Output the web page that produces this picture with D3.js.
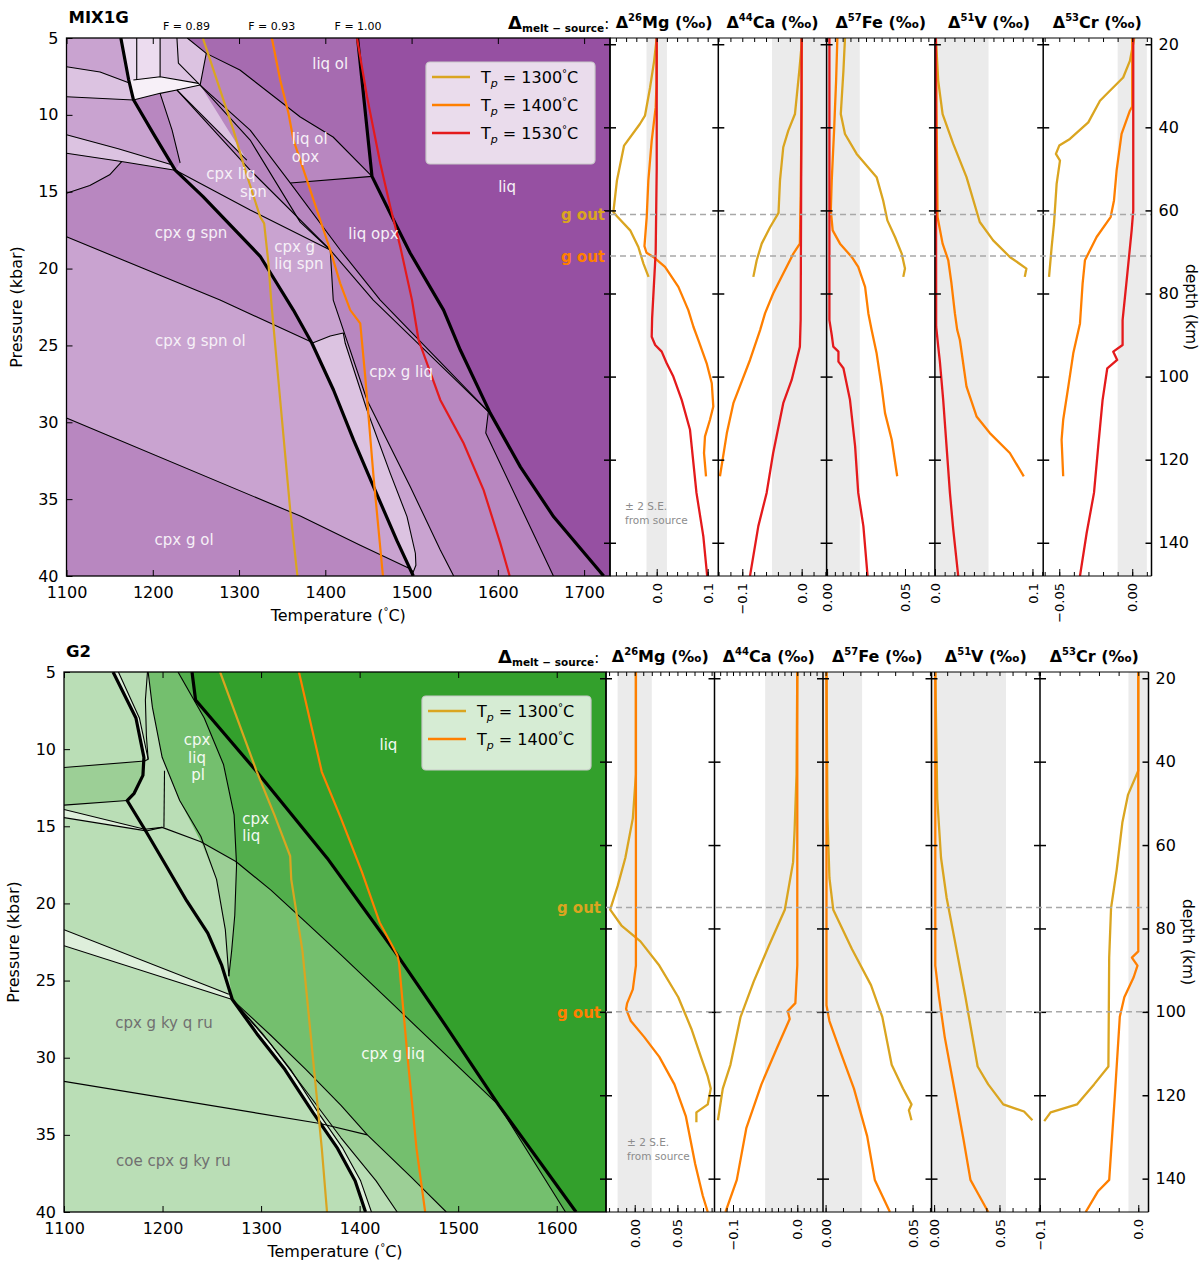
<!DOCTYPE html>
<html lang="en">
<head>
<meta charset="utf-8">
<title>Melt–source isotope fractionation along mantle adiabats</title>
<script src="https://cdn.jsdelivr.net/npm/d3@7/dist/d3.min.js"></script>
<style>
  html, body { margin: 0; padding: 0; background: #fff; }
  svg text { font-family: "DejaVu Sans", sans-serif; }
</style>
</head>
<body>
<svg id="chart" width="1203" height="1261"></svg>
<script>
// ---------------------------------------------------------------
// Shared settings
// ---------------------------------------------------------------
const ELEMENTS = ['Mg', 'Ca', 'Fe', 'V', 'Cr'];
const MASS_NUMBERS = ['26', '44', '57', '51', '53'];
const DEPTH_TICKS = [20, 40, 60, 80, 100, 120, 140];
const P_TICKS = [5, 10, 15, 20, 25, 30, 35, 40];
const KM_PER_KBAR = 3.7;
const SOURCE_2SE = [0.02, 0.05, 0.021, 0.055, 0.01];   // ±2 S.E. of the source composition

// ---------------------------------------------------------------
// MIX1G : phase relations (T °C, P kbar)
// ---------------------------------------------------------------
const mixTLim = [1100, 1730];
const mixTTicks = [1100, 1200, 1300, 1400, 1500, 1600, 1700];
const mixSolidus = [[1163,5],[1172,7.7],[1177.5,9.0],[1201.5,11.3],[1226,13.6],[1258,15.3],[1324.5,19.2],[1363,22.7],[1384.5,24.86],[1409.5,27.9],[1432.7,31.15],[1456,34.2],[1483,37.7],[1502,40]];
const mixLiquidus = [[1437.4,5],[1454.1,14.0],[1479.1,16.84],[1498.5,19.0],[1537.1,22.7],[1556.5,25.3],[1591.3,29.42],[1626.1,32.9],[1664.7,36.15],[1722.7,40]];
const mixAdiabat1300 = [[1258,5],[1274.2,7.73],[1293.5,10.99],[1307.1,13.59],[1324.5,16.63],[1329.1,17.06],[1334.1,19.66],[1337.2,22.05],[1347.7,28.55],[1359.3,35.7],[1367.7,40]];
const mixAdiabat1400 = [[1338,5],[1347.7,7.73],[1357.3,9.9],[1363.1,11.64],[1378.7,14.24],[1394.1,16.84],[1405.7,18.79],[1417.3,20.96],[1428.9,22.7],[1440.5,23.56],[1446.3,27.04],[1455.9,33.54],[1466.8,40]];
const mixAdiabat1530 = [[1436.7,5],[1448.3,8.8],[1463.7,13.15],[1475.3,15.98],[1486.9,18.58],[1500.5,22.05],[1508.1,24.65],[1533.3,28.55],[1560.3,31.37],[1583.5,34.41],[1602.9,37.88],[1613.7,40]];

const mixLiqField = [[1437.4,5],[1454.1,14.0],[1479.1,16.84],[1498.5,19.0],[1537.1,22.7],[1556.5,25.3],[1591.3,29.42],[1626.1,32.9],[1664.7,36.15],[1722.7,40],[1730,40],[1730,5]];
const mixLiqOlField = [[1240,5],[1262,6.0],[1301,7.08],[1371,10.14],[1409,11.44],[1454.1,14.0],[1437.4,5]];
const mixLiqOpxField = [[1359.3,14.43],[1454.1,14.0],[1479.1,16.84],[1498.5,19.0],[1537.1,22.7],[1556.5,25.3],[1591.3,29.42],[1626.1,32.9],[1664.7,36.15],[1722.7,40],[1664.4,40],[1586,30.7],[1589,29.3],[1463.7,22.05],[1417.3,18.79]];
const mixSpnOlField = [[1100,17.93],[1278,22.05],[1384.5,24.8],[1409.5,27.9],[1432.7,31.15],[1456,34.2],[1483,37.7],[1497,39.5],[1440.5,38.0],[1371,36.1],[1100,29.72]];
const mixCpxLiqField = [[1226,13.6],[1258,15.3],[1324.5,19.2],[1363,22.7],[1384.5,24.86],[1409.5,27.9],[1432.7,31.15],[1456,34.2],[1483,37.7],[1502,40],[1548.8,40],[1533.3,38.31],[1498.5,34.19],[1448.3,28.55],[1409.2,22.05],[1405.7,18.79],[1312.9,13.59],[1227.9,8.38],[1208.5,8.6],[1222.4,10.99],[1231.7,13.13]];
const mixGtLiqSpnField = [[1384.5,24.86],[1405.7,24.39],[1420.8,24.19],[1423.1,24.86],[1448.3,29.2],[1475.3,33.32],[1494.7,36.14],[1504.4,38.52],[1505,39.3],[1500.5,39.94],[1483,37.7],[1456,34.2],[1432.7,31.15],[1409.5,27.9]];
const mixBandA = [[1100,5],[1163,5],[1172,7.7],[1173.7,7.95],[1138.9,7.21],[1100,6.87]];
const mixBandB = [[1100,6.87],[1138.9,7.21],[1173.7,7.95],[1177.5,9.03],[1100,8.82]];
const mixBandC = [[1100,8.82],[1177.5,9.03],[1201.5,11.3],[1222,13.25],[1160,12.2],[1100,11.3]];
const mixBandD = [[1100,11.3],[1160,12.2],[1222,13.25],[1226,13.6],[1160,13.0],[1100,12.5]];
const mixBandE = [[1100,12.5],[1160,13.0],[1164,13.05],[1150,13.9],[1127,14.6],[1100,15.1]];
const mixClusterPale = [[1163,5],[1208.5,5],[1208.5,7.52],[1177.5,7.73],[1172,7.7]];
const mixClusterWhite = [[1177.5,7.73],[1208.5,7.52],[1252.9,7.95],[1254.9,8.06],[1227.9,8.38],[1208.5,8.6],[1177.5,9.03],[1172,7.7]];
const mixClusterLight = [[1208.5,5],[1240,5],[1262,6.0],[1254.9,8.06],[1252.9,7.95],[1208.5,7.52]];
const mixWedge = [[1227.9,8.38],[1254.9,8.06],[1309,12.94]];

const mixThinLines = [
  [[1100,6.87],[1138.9,7.21],[1173.7,7.95]],
  [[1100,8.82],[1177.5,9.03]],
  [[1100,11.3],[1160,12.2],[1222,13.25]],
  [[1100,12.5],[1160,13.0],[1226,13.6]],
  [[1100,15.1],[1127,14.6],[1150,13.9],[1164,13.05]],
  [[1100,17.93],[1278,22.05],[1384.5,24.8]],
  [[1100,29.72],[1371,36.1],[1440.5,38.0],[1497,39.5]],
  [[1240,5],[1262,6.0],[1301,7.08],[1371,10.14],[1409,11.44],[1454.1,14.0]],
  [[1359.3,14.43],[1454.1,14.0]],
  [[1359.3,14.43],[1417.3,18.79],[1463.7,22.05],[1589,29.3]],
  [[1591.3,29.42],[1589,29.3],[1586,30.7],[1664.4,40]],
  [[1225.9,13.59],[1312.9,16.19],[1405.7,18.79],[1409.2,22.05],[1448.3,28.55],[1498.5,34.19],[1533.3,38.31],[1548.8,40]],
  [[1384.5,24.86],[1405.7,24.39],[1420.8,24.19],[1423.1,24.86],[1448.3,29.2],[1475.3,33.32],[1494.7,36.14],[1504.4,38.52],[1505,39.3],[1500.5,39.94]],
  [[1405.7,18.79],[1455.6,22.05],[1589,29.3]],
  [[1254.9,8.06],[1312.9,11.64],[1370.9,16.98],[1405.7,18.79]],
  [[1227.9,8.38],[1312.9,13.59],[1405.7,18.79]],
  [[1254.9,8.06],[1312.9,10.99],[1359.3,14.43]],
  [[1227.9,8.38],[1309,12.94]],
  [[1208.5,8.6],[1222.4,10.99],[1231.7,13.13]],
  [[1181.4,5],[1181.4,7.73]],
  [[1208.5,5],[1208.5,7.52]],
  [[1177.5,7.73],[1208.5,7.52],[1252.9,7.95],[1254.9,8.06]],
  [[1228,5],[1229.7,6.63],[1252.9,7.95]],
  [[1177.5,9.03],[1208.5,8.6],[1227.9,8.38],[1254.9,8.06],[1262,6.0]]
];
const mixFieldLabels = [
  ['liq ol', 1405.7, 6.7, 'middle'],
  ['liq ol', 1361, 11.57, 'start'],
  ['opx', 1361, 12.7, 'start'],
  ['liq', 1610.7, 14.67, 'middle'],
  ['cpx liq', 1290.6, 13.85, 'middle'],
  ['spn', 1316.7, 15.0, 'middle'],
  ['cpx g spn', 1244.4, 17.69, 'middle'],
  ['liq opx', 1455.8, 17.71, 'middle'],
  ['cpx g', 1340.7, 18.58, 'start'],
  ['liq spn', 1340.7, 19.7, 'start'],
  ['cpx g spn ol', 1255.2, 24.68, 'middle'],
  ['cpx g liq', 1487.9, 26.71, 'middle'],
  ['cpx g ol', 1236.3, 37.66, 'middle']
];
const mixMeltFractionT = [1239, 1338, 1438];
const mixMeltFractionText = ['F = 0.89', 'F = 0.93', 'F = 1.00'];
const mixGarnetOutDepth = [61, 71];   // km, for Tp = 1300 and 1400 °C

// MIX1G : Δ(melt−source) profiles, [depth km, ‰]
const mixMg1300 = [[18.5,0.0],[24,-0.005],[30.4,-0.013],[37.2,-0.023],[39.2,-0.033],[44.4,-0.064],[52.8,-0.078],[60.4,-0.085],[61.4,-0.078],[64.8,-0.052],[68.8,-0.036],[72.8,-0.026],[76,-0.016]];
const mixMg1400 = [[18.5,0.0],[30,-0.0005],[35.2,-0.002],[43.2,-0.0098],[52.8,-0.0164],[61.6,-0.0196],[68.6,-0.024],[70.2,-0.02],[71.2,-0.0066],[73.6,0.0163],[78.4,0.0425],[84,0.062],[88,0.072],[91.2,0.0817],[96.8,0.098],[101.6,0.108],[107.2,0.111],[110.4,0.1045],[114.4,0.0947],[118.4,0.0928],[124,0.0967]];
const mixMg1530 = [[18.5,0.0],[50,0.0],[70,-0.002],[86,-0.009],[90.4,-0.0098],[92.4,-0.003],[94,0.0098],[96.8,0.0196],[100,0.0326],[105.6,0.049],[112.8,0.0653],[128,0.078],[138.4,0.0914],[148,0.099]];
const mixCa1300 = [[18.5,0.0],[20,0.0],[26.4,-0.004],[36.8,-0.0113],[40.8,-0.0225],[44.8,-0.031],[52.8,-0.0365],[60.6,-0.039],[64,-0.053],[68,-0.0673],[72,-0.0757],[76,-0.0814]];
const mixCa1400 = [[18.5,0.0],[35.2,0.0],[56.8,-0.0017],[68,-0.003],[70.4,-0.014],[75.2,-0.031],[80,-0.048],[84.8,-0.0617],[88.8,-0.070],[96,-0.087],[106.4,-0.115],[113.6,-0.126],[124,-0.1376]];
const mixCa1530 = [[18.5,0.0],[60,-0.001],[86.4,-0.0017],[92.8,-0.003],[100.8,-0.0168],[106.4,-0.031],[118.4,-0.048],[128,-0.059],[136,-0.073],[148,-0.087]];
const mixFe1300 = [[18.5,0.0115],[26.4,0.0105],[36.8,0.0088],[41.6,0.0115],[46.4,0.019],[52,0.0318],[57.6,0.036],[62.4,0.0387],[66.4,0.0436],[70.4,0.0479],[74,0.05],[76,0.0489]];
const mixFe1400 = [[18.5,0.0066],[28.8,0.0058],[40.8,0.0045],[52.8,0.003],[60,0.0024],[64.8,0.0036],[68,0.0083],[71.2,0.0158],[73.6,0.020],[78.4,0.0244],[84.8,0.0265],[88.8,0.0286],[94.4,0.0318],[102.4,0.035],[108.8,0.0372],[115.2,0.0415],[124,0.045]];
const mixFe1530 = [[18.5,0.0015],[86.4,0.0015],[90,0.003],[92.8,0.004],[94,0.0073],[96.4,0.0073],[98,0.0105],[105.6,0.0147],[116.8,0.018],[128,0.020],[136,0.0233],[148,0.026]];
const mixV1300 = [[18.5,0.001],[28.8,0.0034],[36.8,0.0079],[44,0.0188],[52,0.0324],[62.8,0.046],[67.2,0.0597],[71.2,0.0768],[74,0.0938],[76,0.0921]];
const mixV1400 = [[18.5,0.001],[61.6,0.0027],[68,0.0079],[72,0.0137],[77.6,0.017],[84.8,0.0205],[88.8,0.0229],[91.2,0.0256],[102.4,0.0324],[109.6,0.0427],[113.6,0.0563],[118.4,0.0768],[124,0.0911]];
const mixV1530 = [[18.5,0.001],[88,0.0013],[92.8,0.0034],[96.4,0.0051],[105.6,0.0085],[128,0.0154],[136.8,0.0188],[148,0.0239]];
const mixCr1300 = [[18.5,0.0014],[24,-0.0016],[28,-0.0062],[31.2,-0.0153],[33.6,-0.0221],[38.8,-0.0301],[42.8,-0.0427],[44.4,-0.05],[46.4,-0.0523],[48,-0.0495],[53.6,-0.0518],[63.2,-0.0536],[68.8,-0.0552],[76,-0.057]];
const mixCr1400 = [[18.5,0.0],[35,0.0],[36,-0.0016],[41.6,-0.0073],[50.4,-0.0107],[57.6,-0.0125],[61.6,-0.0148],[66.4,-0.0244],[72,-0.0324],[77.6,-0.034],[87.2,-0.0358],[94.4,-0.0404],[102.4,-0.0438],[110.4,-0.0473],[115.2,-0.0484],[124,-0.0473]];
const mixCr1530 = [[18.5,0.0007],[60,0.0007],[64.8,-0.0004],[76.8,-0.0038],[86.4,-0.0066],[92.4,-0.0066],[94,-0.013],[96,-0.0103],[98,-0.0171],[105.6,-0.0203],[116.8,-0.0233],[128,-0.0262],[137.6,-0.0312],[148,-0.0358]];
const mixXLim = [[-0.0916,0.1208],[-0.1404,0.042],[-0.0003,0.0692],[0,0.111],[-0.061,0.0132]];
const mixTickValues = [[0,0.1],[-0.1,0],[0,0.05],[0,0.1],[-0.05,0]];
const mixTickDecimals = [1,1,2,1,2];
const mixMinorStep = [0.02,0.02,0.005,0.01,0.01];

// ---------------------------------------------------------------
// G2 : phase relations (T °C, P kbar)
// ---------------------------------------------------------------
const g2TLim = [1100, 1650];
const g2TTicks = [1100, 1200, 1300, 1400, 1500, 1600];
const g2Solidus = [[1149.8,5],[1173,7.98],[1181.1,10.53],[1180.1,11.7],[1171.2,12.86],[1164.1,13.33],[1181.9,15.19],[1203.2,17.51],[1224.6,19.84],[1245.9,21.93],[1260.1,24.02],[1270.8,26.23],[1295.7,28.44],[1324.2,30.77],[1352.7,33.56],[1377.6,35.88],[1395.4,37.98],[1406,40]];
const g2Liquidus = [[1229.9,5],[1233.5,6.81],[1295.7,11.47],[1366.9,17.05],[1438.1,23.33],[1487.9,27.98],[1541.3,33.09],[1619.6,40]];
const g2Adiabat1300 = [[1258.4,5],[1295.7,11.47],[1313.5,14.26],[1329.5,16.93],[1330.6,18.44],[1342,23.09],[1352.7,30.07],[1361.6,35.88],[1366.9,40]];
const g2Adiabat1400 = [[1338.4,5],[1349.1,7.98],[1361.6,11.47],[1381.1,14.49],[1402.5,17.98],[1420.3,21.23],[1438.1,23.33],[1439.9,23.79],[1448.8,30.07],[1457.7,35.88],[1466.5,40]];

const g2LiqField = [[1229.9,5],[1233.5,6.81],[1295.7,11.47],[1366.9,17.05],[1438.1,23.33],[1487.9,27.98],[1541.3,33.09],[1619.6,40],[1650,40],[1650,5]];
const g2CpxLiqField = [[1215.7,5],[1242.3,7.98],[1261.9,11.0],[1272.6,14.26],[1274.4,17.28],[1310,19.14],[1345.6,21.23],[1381.1,23.33],[1434.5,26.58],[1541.3,33.09],[1487.9,27.98],[1438.1,23.33],[1366.9,17.05],[1295.7,11.47],[1233.5,6.81],[1229.9,5]];
const g2CpxLiqTail = [[1541.3,33.09],[1608.9,40],[1619.6,40]];
const g2PlagLensTop = [[1185.4,5],[1189.7,7.28],[1199.6,10.53],[1217.4,13.33],[1238.8,16.0],[1274.4,17.28],[1272.6,14.26],[1261.9,11.0],[1242.3,7.98],[1215.7,5]];
const g2PlagLensBottom = [[1238.8,16.0],[1254.8,18.44],[1263.7,21.7],[1267.3,24.72],[1270.1,23.09],[1273.3,20.77],[1275.1,17.51],[1274.4,17.28]];
const g2GtLiqField = [[1274.4,17.28],[1310,19.14],[1345.6,21.23],[1381.1,23.33],[1434.5,26.58],[1541.3,33.09],[1608.9,40],[1487.9,40],[1452.3,37.74],[1407.8,35.0],[1381.1,33.09],[1345.6,30.77],[1310,28.56],[1270.8,26.23],[1267.3,24.72],[1270.1,23.09],[1273.3,20.77],[1275.1,17.51]];
const g2FanField = [[1270.8,26.23],[1310,28.56],[1345.6,30.77],[1381.1,33.09],[1407.8,35.0],[1452.3,37.74],[1487.9,40],[1438.1,40],[1416.7,37.98],[1381.1,35.19],[1345.6,32.16],[1310,29.14]];
const g2LeftBand = [[1100,11.19],[1181.9,10.77],[1180.1,11.7],[1171.2,12.86],[1164.1,13.33],[1100,13.63]];
const g2StripLeft = [[1100,13.91],[1181.9,15.19],[1183.6,15.3],[1100,14.44]];
const g2StripTop = [[1149.8,5],[1173,7.98],[1181.1,10.53],[1185.4,10.65],[1176.5,7.98],[1155.2,5]];
const g2StripMid = [[1100,21.7],[1267.3,25.88],[1270.8,26.23],[1100,22.74]];
const g2StripLow = [[1270.8,26.23],[1295.7,28.44],[1324.2,30.77],[1352.7,33.56],[1377.6,35.88],[1395.4,37.98],[1406,40],[1412,40],[1401,37.98],[1383,35.88],[1358,33.56],[1330,30.77],[1301,28.4]];

const g2ThinLines = [
  [[1185.4,5],[1189.7,7.28],[1199.6,10.53],[1217.4,13.33],[1238.8,15.65],[1254.8,18.44],[1263.7,21.7],[1267.3,24.72]],
  [[1215.7,5],[1242.3,7.98],[1261.9,11.0],[1272.6,14.26],[1275.1,17.51],[1273.3,20.77],[1270.1,23.09],[1267.3,24.72]],
  [[1100,11.19],[1181.9,10.77]],
  [[1100,13.63],[1164.1,13.33]],
  [[1100,13.91],[1181.9,15.19],[1199.6,15.07]],
  [[1100,14.44],[1183.6,15.3]],
  [[1183.6,15.3],[1199.6,15.07],[1238.8,16.0],[1274.4,17.28],[1310,19.14],[1345.6,21.23],[1381.1,23.33],[1434.5,26.58],[1541.3,33.09],[1608.9,40]],
  [[1184.7,5],[1182.6,6.81],[1183.6,9.14],[1185.4,10.65]],
  [[1202,11.4],[1201.4,15.07]],
  [[1270.8,26.23],[1310,28.56],[1345.6,30.77],[1381.1,33.09],[1407.8,35.0],[1452.3,37.74],[1487.9,40]],
  [[1270.8,26.23],[1310,29.14],[1345.6,32.16],[1381.1,35.19],[1416.7,37.98],[1438.1,40]],
  [[1100,21.7],[1267.3,25.88]],
  [[1100,22.74],[1270.8,26.23]],
  [[1100,31.53],[1359.8,34.26],[1407.8,35.0]],
  [[1155.2,5],[1176.5,7.98],[1185.4,10.65],[1181.9,10.77]],
  [[1270.8,26.23],[1301,28.4],[1330,30.77],[1358,33.56],[1383,35.88],[1401,37.98],[1412,40]]
];
const g2FieldLabels = [
  ['cpx', 1235, 9.42, 'middle'],
  ['liq', 1235, 10.55, 'middle'],
  ['pl', 1236, 11.68, 'middle'],
  ['cpx', 1281, 14.5, 'start'],
  ['liq', 1281, 15.62, 'start'],
  ['liq', 1429.2, 9.72, 'middle'],
  ['cpx g liq', 1433.8, 29.72, 'middle']
];
const g2SubsolidusLabels = [
  ['cpx g ky q ru', 1201.4, 27.74, 'middle'],
  ['coe cpx g ky ru', 1211, 36.7, 'middle']
];
const g2GarnetOutDepth = [75, 100];

// G2 : Δ(melt−source) profiles, [depth km, ‰]
const g2Mg1300 = [[18.5,0.0014],[43.1,0.0014],[53.6,-0.0022],[63.1,-0.011],[69.8,-0.0199],[75.5,-0.0287],[79.3,-0.0155],[83.1,0.0067],[88.9,0.0288],[96.5,0.051],[104.1,0.0664],[110.8,0.0775],[115.5,0.0855],[118.4,0.089],[122.2,0.0855],[124.1,0.0722],[126.5,0.0722]];
const g2Mg1400 = [[18.5,0.0014],[88.9,0.0014],[94.6,-0.0022],[97.9,-0.0088],[99.3,-0.0101],[102.2,-0.0045],[106,0.011],[110.8,0.0288],[117.4,0.0465],[125,0.0598],[136.5,0.0708],[144.1,0.0797],[148,0.0855]];
const g2Ca1300 = [[18.5,0.0],[43.1,-0.0012],[56.5,-0.0042],[64.1,-0.0065],[75.5,-0.0194],[84.1,-0.0441],[92.7,-0.0677],[101.2,-0.0882],[112.7,-0.104],[118.4,-0.1159],[126,-0.1235]];
const g2Ca1400 = [[18.5,0.0],[88.9,0.0],[97.9,-0.003],[99.8,-0.0148],[101.7,-0.0118],[108.9,-0.0323],[117.4,-0.0558],[127.9,-0.0793],[140.3,-0.0941],[148,-0.1117]];
const g2Fe1300 = [[18.5,0.0005],[53.6,0.0011],[67.9,0.0022],[75.5,0.0044],[85,0.0152],[93.6,0.0261],[101.2,0.0326],[112.7,0.038],[118.4,0.0445],[122.2,0.0494],[123.6,0.0479],[126,0.0494]];
const g2Fe1400 = [[18.5,0.0005],[98.4,0.0005],[102.2,0.0022],[109.8,0.0087],[118.4,0.0163],[129.8,0.0239],[140.3,0.0283],[148,0.037]];
const g2V1300 = [[18.5,0.0009],[48.9,0.0024],[63.1,0.0053],[72.7,0.0096],[82.2,0.0154],[96.5,0.024],[113.1,0.0333],[117.4,0.0414],[122.2,0.0529],[123.9,0.0688],[126,0.0752]];
const g2V1400 = [[18.5,0.0009],[88.9,0.0009],[96.5,0.0038],[106,0.0081],[118.4,0.0154],[130.8,0.0226],[140.3,0.0278],[143.1,0.0327],[148,0.0414]];
const g2Cr1300 = [[18.5,0.0],[42.2,0.0],[47.9,-0.0104],[54.6,-0.0162],[66,-0.022],[75.1,-0.0277],[87,-0.0296],[113.1,-0.0304],[117.4,-0.045],[122.2,-0.0624],[124.1,-0.0892],[126.2,-0.0957]];
const g2Cr1400 = [[18.5,0.0],[85.5,0.0],[87,-0.0065],[88.9,-0.0008],[91.7,-0.0047],[96.5,-0.0142],[101.2,-0.0188],[120.3,-0.0239],[140.3,-0.0296],[143.1,-0.0412],[148,-0.0535]];
const g2XLim = [[-0.0336,0.0934],[-0.1288,0.040],[-0.0015,0.0609],[-0.002,0.081],[-0.1,0.0104]];
const g2TickValues = [[0,0.05],[-0.1,0],[0,0.05],[0,0.05],[-0.1,0]];
const g2TickDecimals = [2,1,2,2,1];
const g2MinorStep = [0.01,0.01,0.01,0.01,0.02];

// ---------------------------------------------------------------
// Drawing
// ---------------------------------------------------------------
const svg = d3.select('#chart');
const defs = svg.append('defs');
const TP_COLOR = {1300: '#DAA520', 1400: '#FF7F00', 1530: '#E41A1C'};
const MIX_FILL = {liq: '#9650a2', dark: '#a66bb0', med: '#b887c0', lm: '#c9a3d0', light: '#dcc3e1', pale: '#ecdcef', white: '#f7f0f8'};
const G2_FILL = {liq: '#33a02c', dark: '#52ae4c', med: '#74bf6e', ml: '#9ccf96', light: '#badeb6', pale: '#deefdb'};

function addClip(id, x0, y0, x1, y1) {
  defs.append('clipPath').attr('id', id).append('rect')
    .attr('x', x0).attr('y', y0).attr('width', x1 - x0).attr('height', y1 - y0);
  return `url(#${id})`;
}

function tidyAxis(sel, size) {
  sel.attr('font-family', null).attr('font-size', null);
  sel.select('.domain').remove();
  sel.selectAll('.tick line').attr('stroke', '#000').attr('stroke-width', 1);
  sel.selectAll('.tick text').attr('font-size', size).attr('fill', '#000');
}

function tpLabel(sel, tp) {
  sel.append('tspan').text('T');
  sel.append('tspan').attr('font-style', 'italic').attr('font-size', 11).attr('dy', 4).text('p');
  sel.append('tspan').attr('dy', -4).text(' = ' + tp);
  sel.append('tspan').attr('font-size', 10).attr('dy', -6).text('°');
  sel.append('tspan').attr('dy', 6).text('C');
}

function drawPhaseDiagram(o) {
  const x = d3.scaleLinear().domain(o.tLim).range([o.x0, o.x1]);
  const y = d3.scaleLinear().domain([P_TICKS[0], P_TICKS[P_TICKS.length - 1]]).range([o.y0, o.y1]);
  const path = d3.line().x(d => x(d[0])).y(d => y(d[1]));
  const g = svg.append('g');
  const body = g.append('g').attr('clip-path', addClip(o.id + '-pd', o.x0, o.y0, o.x1, o.y1));

  body.append('rect').attr('x', o.x0).attr('y', o.y0)
    .attr('width', o.x1 - o.x0).attr('height', o.y1 - o.y0).attr('fill', o.base);
  o.fields.forEach(([pts, fill]) => body.append('path').attr('d', path(pts) + 'Z').attr('fill', fill));
  o.thin.forEach(pts => body.append('path').attr('d', path(pts))
    .attr('fill', 'none').attr('stroke', '#000').attr('stroke-width', 1.1).attr('stroke-linejoin', 'round'));
  o.thick.forEach(pts => body.append('path').attr('d', path(pts))
    .attr('fill', 'none').attr('stroke', '#000').attr('stroke-width', 3.2).attr('stroke-linejoin', 'round'));
  o.adiabats.forEach(([pts, tp]) => body.append('path').attr('d', path(pts))
    .attr('fill', 'none').attr('stroke', TP_COLOR[tp]).attr('stroke-width', 2.2));

  o.labelSets.forEach(([labels, color]) => labels.forEach(([t, T, P, anchor]) => {
    g.append('text').attr('x', x(T)).attr('y', y(P)).attr('dy', '0.35em')
      .attr('text-anchor', anchor).attr('font-size', 15).attr('fill', color).text(t);
  }));

  // legend
  const lg = g.append('g');
  const lx = o.x1 - 184, ly = o.y0 + 24, lh = 18 + 28 * o.tps.length;
  lg.append('rect').attr('x', lx).attr('y', ly).attr('width', 169).attr('height', lh)
    .attr('rx', 4).attr('fill', '#fff').attr('fill-opacity', 0.8)
    .attr('stroke', '#c8c8c8').attr('stroke-width', 1.2);
  o.tps.forEach((tp, i) => {
    const yy = ly + 15 + 28 * i;
    lg.append('line').attr('x1', lx + 6).attr('x2', lx + 44).attr('y1', yy).attr('y2', yy)
      .attr('stroke', TP_COLOR[tp]).attr('stroke-width', 2.4);
    tpLabel(lg.append('text').attr('x', lx + 55).attr('y', yy + 6).attr('font-size', 16).attr('fill', '#000'), tp);
  });

  // frame and axes
  g.append('rect').attr('x', o.x0).attr('y', o.y0).attr('width', o.x1 - o.x0).attr('height', o.y1 - o.y0)
    .attr('fill', 'none').attr('stroke', '#000').attr('stroke-width', 1.3);
  g.append('g').attr('transform', `translate(${o.x0},0)`)
    .call(d3.axisLeft(y).tickValues(P_TICKS).tickSizeInner(-6).tickSizeOuter(0).tickPadding(8).tickFormat(d3.format('d')))
    .call(s => tidyAxis(s, 16));
  g.append('g').attr('transform', `translate(0,${o.y1})`)
    .call(d3.axisBottom(x).tickValues(o.tTicks).tickSizeInner(-6).tickSizeOuter(0).tickPadding(11).tickFormat(d3.format('d')))
    .call(s => tidyAxis(s, 16));
  g.append('g').attr('transform', `translate(0,${o.y0})`)
    .call(d3.axisTop(x).tickValues(o.tTicks).tickSizeInner(-6).tickSizeOuter(0).tickFormat(() => ''))
    .call(s => tidyAxis(s, 16));

  const tl = g.append('text').attr('x', (o.x0 + o.x1) / 2).attr('y', o.y1 + 45)
    .attr('text-anchor', 'middle').attr('font-size', 16).attr('fill', '#000');
  tl.append('tspan').text('Temperature (');
  tl.append('tspan').attr('font-size', 10).attr('dy', -6).text('°');
  tl.append('tspan').attr('dy', 6).text('C)');
  g.append('text').attr('transform', `translate(${o.x0 - 45},${(o.y0 + o.y1) / 2}) rotate(-90)`)
    .attr('text-anchor', 'middle').attr('font-size', 16).attr('fill', '#000').text('Pressure (kbar)');

  g.append('text').attr('x', o.x0 + 2).attr('y', o.y0 - 15).attr('font-size', 16.5)
    .attr('font-weight', 'bold').attr('fill', '#000').text(o.name);
  if (o.fTexts) {
    o.fTexts.forEach((t, i) => g.append('text').attr('x', x(o.fT[i])).attr('y', o.y0 - 8)
      .attr('text-anchor', 'middle').attr('font-size', 11).attr('fill', '#000').text(t));
  }
  return {x, y};
}

function drawPanels(o) {
  const yD = d3.scaleLinear().domain([P_TICKS[0] * KM_PER_KBAR, P_TICKS[P_TICKS.length - 1] * KM_PER_KBAR])
    .range([o.y0, o.y1]);
  const g = svg.append('g');
  const right = o.left + ELEMENTS.length * o.width;

  ELEMENTS.forEach((el, i) => {
    const l = o.left + i * o.width, r = l + o.width;
    const xs = d3.scaleLinear().domain(o.xLim[i]).range([l, r]);
    const pg = g.append('g').attr('clip-path', addClip(`${o.id}-panel${i}`, l, o.y0, r, o.y1));
    const band = SOURCE_2SE[i];
    pg.append('rect').attr('x', xs(-band)).attr('y', o.y0)
      .attr('width', xs(band) - xs(-band)).attr('height', o.y1 - o.y0).attr('fill', '#ebebeb');
    const line = d3.line().x(d => xs(d[1])).y(d => yD(d[0]));
    o.profiles[i].forEach((prof, k) => pg.append('path').attr('d', line(prof))
      .attr('fill', 'none').attr('stroke', TP_COLOR[o.tps[k]]).attr('stroke-width', 2.3)
      .attr('stroke-linejoin', 'round'));

    // x ticks (inward on top and bottom), labelled ticks rotated
    const step = o.minorStep[i];
    const dom = o.xLim[i];
    const minor = d3.range(Math.ceil(dom[0] / step - 1e-6), Math.floor(dom[1] / step + 1e-6) + 1)
      .map(k => +(k * step).toFixed(4));
    g.append('g').attr('transform', `translate(0,${o.y1})`)
      .call(d3.axisBottom(xs).tickValues(minor).tickSizeInner(-4).tickSizeOuter(0).tickFormat(() => ''))
      .call(s => tidyAxis(s, 13));
    g.append('g').attr('transform', `translate(0,${o.y0})`)
      .call(d3.axisTop(xs).tickValues(minor).tickSizeInner(-4).tickSizeOuter(0).tickFormat(() => ''))
      .call(s => tidyAxis(s, 13));
    const fmt = d3.format(`.${o.tickDecimals[i]}f`);
    g.append('g').attr('transform', `translate(0,${o.y1})`)
      .call(d3.axisBottom(xs).tickValues(o.tickValues[i]).tickSizeInner(-7).tickSizeOuter(0).tickFormat(fmt))
      .call(s => tidyAxis(s, 13))
      .call(s => s.selectAll('.tick text').attr('transform', 'rotate(-90)')
        .attr('x', -7).attr('y', 0).attr('dy', '0.35em').attr('text-anchor', 'end'));

    // depth ticks crossing the left spine
    g.append('g').attr('transform', `translate(${l},0)`)
      .call(d3.axisLeft(yD).tickValues(DEPTH_TICKS).tickSizeInner(6).tickSizeOuter(0).tickFormat(() => ''))
      .call(s => tidyAxis(s, 16))
      .call(s => s.selectAll('.tick line').attr('x1', 6).attr('stroke-width', 1.5));

    // spines
    g.append('line').attr('x1', l).attr('x2', r).attr('y1', o.y0).attr('y2', o.y0).attr('stroke', '#000').attr('stroke-width', 1);
    g.append('line').attr('x1', l).attr('x2', r).attr('y1', o.y1).attr('y2', o.y1).attr('stroke', '#000').attr('stroke-width', 1);
    g.append('line').attr('x1', l).attr('x2', l).attr('y1', o.y0).attr('y2', o.y1).attr('stroke', '#000').attr('stroke-width', 1.5);

    // column title
    const tt = g.append('text').attr('x', (l + r) / 2).attr('y', o.y0 - 10)
      .attr('text-anchor', 'middle').attr('font-size', 16).attr('font-weight', 'bold').attr('fill', '#000');
    tt.append('tspan').text('Δ');
    tt.append('tspan').attr('font-size', 10).attr('dy', -7).text(MASS_NUMBERS[i]);
    tt.append('tspan').attr('dy', 7).text(el + ' (‰)');
  });

  // garnet-out depths
  o.garnetOut.forEach((d, k) => {
    g.append('line').attr('x1', o.left).attr('x2', right).attr('y1', yD(d)).attr('y2', yD(d))
      .attr('stroke', '#a8a8a8').attr('stroke-width', 1.5).attr('stroke-dasharray', '6,4');
    g.append('text').attr('x', o.left - 5).attr('y', yD(d)).attr('dy', '0.38em')
      .attr('text-anchor', 'end').attr('font-size', 15).attr('font-weight', 'bold')
      .attr('fill', TP_COLOR[o.tps[k]]).text('g out');
  });

  // right spine and depth axis
  g.append('line').attr('x1', right).attr('x2', right).attr('y1', o.y0).attr('y2', o.y1)
    .attr('stroke', '#000').attr('stroke-width', 1.5);
  g.append('g').attr('transform', `translate(${right},0)`)
    .call(d3.axisRight(yD).tickValues(DEPTH_TICKS).tickSizeInner(-6).tickSizeOuter(0).tickPadding(7))
    .call(s => tidyAxis(s, 16))
    .call(s => s.selectAll('.tick line').attr('stroke-width', 1.5));
  g.append('text').attr('transform', `translate(${right + 34},${(o.y0 + o.y1) / 2}) rotate(90)`)
    .attr('text-anchor', 'middle').attr('font-size', 15.5).attr('fill', '#000').text('depth (km)');

  // source uncertainty note
  g.append('text').attr('x', o.left + o.noteOffset).attr('y', yD(131.3)).attr('dy', '0.35em')
    .attr('font-size', 10.5).attr('fill', '#8c8c8c').text('± 2 S.E.');
  g.append('text').attr('x', o.left + o.noteOffset).attr('y', yD(134.6)).attr('dy', '0.35em')
    .attr('font-size', 10.5).attr('fill', '#8c8c8c').text('from source');

  // Δ melt−source heading
  const hd = g.append('text').attr('x', o.left - o.headingShift).attr('y', o.y0 - 9)
    .attr('font-weight', 'bold').attr('fill', '#000');
  hd.append('tspan').attr('font-size', 18).text('Δ');
  hd.append('tspan').attr('font-size', 10.5).attr('dy', 3).text('melt − source');
  hd.append('tspan').attr('font-size', 15).attr('font-weight', 'normal').attr('dy', -3).text(':');
}

// ---------------- MIX1G ----------------
drawPhaseDiagram({
  id: 'mix', name: 'MIX1G', tLim: mixTLim, tTicks: mixTTicks,
  x0: 66.5, x1: 610, y0: 38, y1: 576, base: MIX_FILL.med,
  fields: [
    [mixBandA, MIX_FILL.lm], [mixBandB, MIX_FILL.light], [mixBandC, MIX_FILL.lm],
    [mixBandD, MIX_FILL.light], [mixBandE, MIX_FILL.lm],
    [mixSpnOlField, MIX_FILL.lm], [mixCpxLiqField, MIX_FILL.lm], [mixGtLiqSpnField, MIX_FILL.light],
    [mixClusterPale, MIX_FILL.pale], [mixClusterLight, MIX_FILL.light], [mixClusterWhite, MIX_FILL.white],
    [mixWedge, MIX_FILL.light],
    [mixLiqOlField, MIX_FILL.dark], [mixLiqOpxField, MIX_FILL.dark], [mixLiqField, MIX_FILL.liq]
  ],
  thin: mixThinLines, thick: [mixSolidus, mixLiquidus],
  adiabats: [[mixAdiabat1300, 1300], [mixAdiabat1400, 1400], [mixAdiabat1530, 1530]],
  labelSets: [[mixFieldLabels, '#f6f0f7']],
  tps: [1300, 1400, 1530],
  fT: mixMeltFractionT, fTexts: mixMeltFractionText
});
drawPanels({
  id: 'mix', left: 610, width: 108.3, y0: 38, y1: 576,
  xLim: mixXLim, tickValues: mixTickValues, tickDecimals: mixTickDecimals, minorStep: mixMinorStep,
  tps: [1300, 1400, 1530],
  profiles: [
    [mixMg1300, mixMg1400, mixMg1530], [mixCa1300, mixCa1400, mixCa1530],
    [mixFe1300, mixFe1400, mixFe1530], [mixV1300, mixV1400, mixV1530],
    [mixCr1300, mixCr1400, mixCr1530]
  ],
  garnetOut: mixGarnetOutDepth, noteOffset: 15, headingShift: 102
});

// ---------------- G2 ----------------
drawPhaseDiagram({
  id: 'g2', name: 'G2', tLim: g2TLim, tTicks: g2TTicks,
  x0: 64, x1: 606, y0: 672, y1: 1212, base: G2_FILL.light,
  fields: [
    [g2LeftBand, G2_FILL.ml], [g2StripLeft, G2_FILL.pale], [g2StripTop, G2_FILL.pale],
    [g2StripMid, G2_FILL.pale], [g2FanField, G2_FILL.ml], [g2StripLow, G2_FILL.pale],
    [g2PlagLensTop, G2_FILL.med], [g2PlagLensBottom, G2_FILL.ml],
    [g2GtLiqField, G2_FILL.med], [g2CpxLiqField, G2_FILL.dark], [g2CpxLiqTail, G2_FILL.dark],
    [g2LiqField, G2_FILL.liq]
  ],
  thin: g2ThinLines, thick: [g2Solidus, g2Liquidus],
  adiabats: [[g2Adiabat1300, 1300], [g2Adiabat1400, 1400]],
  labelSets: [[g2FieldLabels, '#f4faf3'], [g2SubsolidusLabels, '#707070']],
  tps: [1300, 1400]
});
drawPanels({
  id: 'g2', left: 606, width: 108.5, y0: 672, y1: 1212,
  xLim: g2XLim, tickValues: g2TickValues, tickDecimals: g2TickDecimals, minorStep: g2MinorStep,
  tps: [1300, 1400],
  profiles: [
    [g2Mg1300, g2Mg1400], [g2Ca1300, g2Ca1400], [g2Fe1300, g2Fe1400],
    [g2V1300, g2V1400], [g2Cr1300, g2Cr1400]
  ],
  garnetOut: g2GarnetOutDepth, noteOffset: 21, headingShift: 108
});
</script>
</body>
</html>
